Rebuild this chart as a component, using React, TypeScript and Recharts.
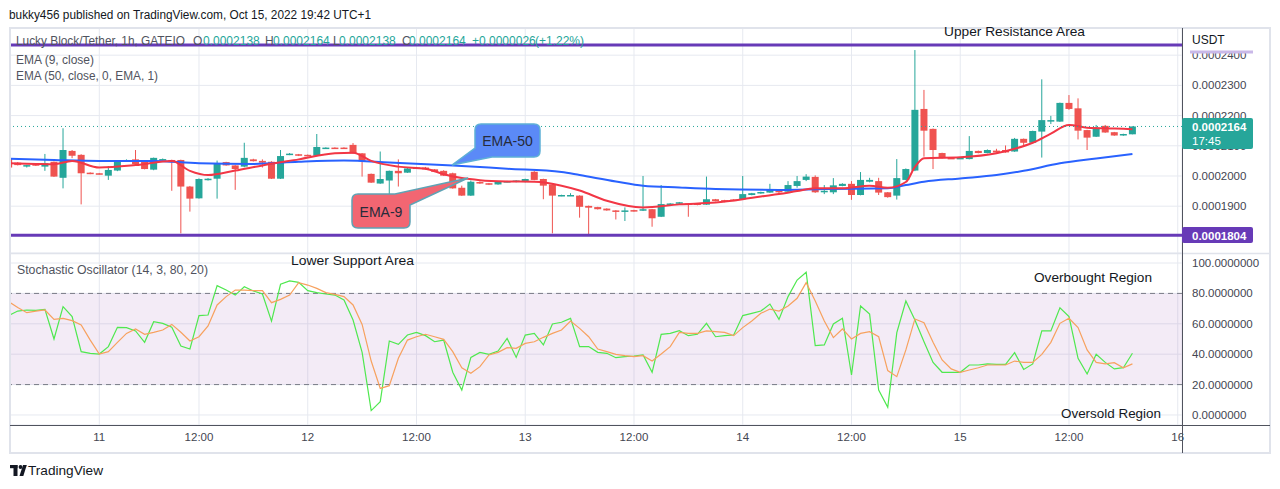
import { Bar, CartesianGrid, ComposedChart, Line, ReferenceArea, ReferenceLine, XAxis, YAxis } from "recharts";

const TEAL = "#26a69a";
const RED = "#ef5350";
const PURPLE = "#673ab7";
const GRID = "#e6e9f0";
const AXIS_TEXT = "#434651";
const FONT = "'Liberation Sans', Arial, sans-serif";

// bar index of the first candle; bar 0 = Oct 11 12:00 (hourly bars, one missing that morning)
const FIRST_BAR = -21;

// prices in units of 1e-7 USDT
const openE7 = [
  2058, 2044, 2034, 2039, 2031, 2047, 1994, 2083, 2070, 2011,
  2009, 2001, 2018, 2049, 2055, 2047, 2021, 2053, 2053, 2053,
  1965, 1926, 1986, 1991, 2046, 2035, 2031, 2055, 2050, 2047,
  1991, 2070, 2072, 2070, 2067, 2091, 2094, 2094, 2103, 2075,
  2007, 1975, 1985, 2017, 2011, 2025, 2028, 2022, 2017, 2009,
  1961, 1935, 1980, 1976, 1972, 1980, 1980, 1980, 2014, 1990,
  1972, 1934, 1935, 1935, 1901, 1897, 1892, 1886, 1882, 1887,
  1885, 1890, 1865, 1905, 1908, 1909, 1909, 1905, 1923, 1920,
  1922, 1923, 1937, 1942, 1945, 1951, 1948, 1967, 1987, 1997,
  1946, 1946, 1967, 1974, 1937, 1981, 1983, 1946, 1935, 1987,
  2018, 2222, 2156, 2076, 2060, 2058, 2056, 2083, 2076, 2084,
  2086, 2081, 2123, 2110, 2147, 2181, 2180, 2242, 2224, 2152,
  2130, 2166, 2145, 2134, 2138,
];
const highE7 = [
  2060, 2046, 2037, 2040, 2073, 2048, 2158, 2086, 2072, 2012,
  2010, 2033, 2052, 2055, 2086, 2048, 2061, 2058, 2054, 2054,
  1967, 1992, 1993, 2051, 2047, 2036, 2110, 2057, 2055, 2049,
  2086, 2076, 2073, 2071, 2139, 2095, 2095, 2095, 2109, 2076,
  2008, 2081, 2018, 2055, 2027, 2030, 2030, 2023, 2019, 2011,
  1968, 1985, 1982, 1977, 1982, 1984, 1986, 1991, 2016, 1991,
  1973, 1938, 1943, 1936, 1902, 1898, 1893, 1887, 1896, 1888,
  2000, 1891, 1970, 1910, 1914, 1910, 1910, 1998, 1924, 1921,
  1923, 2000, 1944, 1948, 1974, 1955, 1983, 2000, 2006, 2002,
  1970, 1993, 1976, 1983, 2013, 1994, 1994, 1947, 2056, 2025,
  2417, 2285, 2157, 2077, 2062, 2062, 2132, 2084, 2088, 2090,
  2101, 2126, 2124, 2150, 2320, 2199, 2243, 2268, 2257, 2153,
  2169, 2169, 2146, 2140, 2164,
];
const lowE7 = [
  2026, 2035, 2028, 2033, 2017, 1997, 1959, 2059, 1906, 2006,
  2005, 1987, 2016, 2048, 2036, 2022, 2019, 2052, 1951, 1810,
  1882, 1925, 1985, 1925, 2034, 1954, 2029, 2048, 2028, 1990,
  1990, 2069, 2066, 2065, 2066, 2090, 2090, 2090, 2074, 1998,
  1977, 1974, 1906, 1965, 2010, 2024, 2021, 2013, 2000, 1958,
  1934, 1934, 1974, 1970, 1971, 1979, 1979, 1979, 1986, 1923,
  1810, 1933, 1934, 1862, 1805, 1889, 1885, 1856, 1851, 1882,
  1884, 1832, 1864, 1904, 1907, 1865, 1903, 1904, 1916, 1913,
  1917, 1922, 1936, 1941, 1944, 1940, 1947, 1961, 1983, 1944,
  1940, 1940, 1966, 1921, 1936, 1979, 1937, 1928, 1922, 1986,
  2016, 2064, 2023, 2058, 2057, 2057, 2055, 2075, 2075, 2077,
  2077, 2080, 2099, 2109, 2061, 2172, 2179, 2219, 2121, 2086,
  2129, 2143, 2133, 2133, 2138,
];
const closeE7 = [
  2028, 2036, 2036, 2034, 2042, 1998, 2086, 2067, 2009, 2007,
  2006, 2020, 2050, 2053, 2039, 2023, 2060, 2056, 2046, 1965,
  1925, 1990, 1991, 2042, 2035, 2023, 2060, 2049, 2044, 1991,
  2066, 2074, 2067, 2066, 2096, 2094, 2091, 2091, 2075, 2050,
  1978, 1990, 2017, 2009, 2025, 2028, 2022, 2014, 2001, 1959,
  1935, 1981, 1975, 1971, 1981, 1983, 1985, 1990, 1987, 1968,
  1935, 1937, 1937, 1898, 1895, 1890, 1886, 1881, 1886, 1883,
  1890, 1860, 1907, 1909, 1913, 1904, 1904, 1923, 1917, 1914,
  1918, 1940, 1943, 1947, 1954, 1946, 1970, 1983, 1998, 1946,
  1951, 1969, 1974, 1937, 1987, 1987, 1945, 1930, 1993, 2023,
  2219, 2150, 2086, 2059, 2058, 2060, 2083, 2076, 2086, 2078,
  2078, 2123, 2110, 2149, 2185, 2185, 2242, 2222, 2150, 2127,
  2160, 2144, 2134, 2139, 2164,
];

// EMA lines, read at a subset of bars
const ema9Bars = [-21, -18, -16, -14, -11, -7, -3, -1, 1, 4, 7, 11, 15, 17, 19, 22, 25, 27, 29, 31, 34, 37, 40, 42, 45, 49, 53, 57, 60, 62, 64, 66, 68, 71, 74, 76, 78, 79, 80, 84, 88, 90, 92, 94, 96, 98, 101, 103];
const ema9E7 = [2042, 2040, 2039, 2050, 2028, 2036, 2050, 2017, 2003, 2018, 2035, 2055, 2075, 2077, 2050, 2031, 2024, 2006, 1993, 1986, 1982, 1981, 1968, 1952, 1918, 1896, 1906, 1912, 1923, 1932, 1940, 1950, 1959, 1959, 1968, 1961, 1980, 2030, 2059, 2062, 2075, 2090, 2110, 2140, 2169, 2160, 2157, 2155];
const ema50Bars = [-21, -16, -11, -5, 0, 6, 11, 16, 21, 28, 34, 40, 42, 46, 49, 53, 57, 64, 69, 76, 78, 80, 84, 88, 91, 95, 99, 103];
const ema50E7 = [2057, 2053, 2050, 2050, 2042, 2040, 2047, 2051, 2045, 2035, 2024, 2013, 2003, 1982, 1968, 1962, 1957, 1954, 1957, 1959, 1970, 1981, 1992, 2003, 2017, 2042, 2058, 2073];

// Stochastic (14, 3, 80, 20), one value per bar
const stochK = [
  65.4, 68.4, 69.1, 68.9, 69.5, 50.0, 71.3, 64.7, 41.7, 40.6,
  40.1, 45.0, 57.7, 57.5, 55.3, 47.8, 61.4, 60.3, 57.7, 45.4,
  43.4, 65.4, 65.8, 85.1, 82.2, 78.9, 84.4, 81.6, 79.6, 61.8,
  86.0, 88.2, 87.3, 81.8, 80.5, 79.6, 78.9, 75.7, 62.5, 41.2,
  2.9, 8.8, 48.7, 46.5, 52.6, 54.4, 52.2, 48.2, 49.3, 28.1,
  16.4, 37.9, 41.2, 39.9, 42.1, 50.4, 37.9, 52.6, 53.7, 46.1,
  59.9, 61.0, 63.6, 45.0, 45.0, 41.2, 40.6, 37.7, 38.4, 38.8,
  39.5, 28.1, 53.1, 53.7, 55.5, 52.2, 53.1, 60.3, 51.5, 52.2,
  52.6, 65.4, 66.9, 68.4, 73.0, 62.9, 77.9, 88.8, 93.9, 45.6,
  46.1, 59.9, 63.6, 26.3, 71.7, 66.4, 16.4, 5.0, 54.2, 75.0,
  62.5, 48.2, 34.6, 28.1, 28.1, 28.1, 32.9, 32.9, 33.6, 33.3,
  33.3, 41.0, 30.0, 33.6, 55.3, 55.3, 70.6, 64.7, 37.3, 27.0,
  39.9, 34.6, 30.3, 31.1, 40.6,
];
const stochD = [
  74.6, 70.8, 67.3, 68.4, 69.1, 62.9, 63.6, 62.1, 59.2, 49.3,
  40.1, 41.7, 47.8, 53.7, 56.6, 53.1, 54.4, 55.9, 59.6, 54.4,
  48.7, 51.5, 58.6, 72.4, 77.9, 82.2, 82.2, 81.8, 81.8, 73.9,
  76.1, 78.9, 87.1, 85.5, 83.3, 80.5, 79.4, 77.9, 72.4, 59.6,
  35.5, 17.5, 19.3, 37.3, 49.3, 51.5, 53.1, 51.5, 49.8, 41.7,
  31.1, 27.4, 31.8, 39.5, 41.2, 44.3, 43.9, 47.1, 48.2, 51.1,
  53.7, 55.9, 61.8, 57.0, 51.5, 43.4, 41.7, 39.9, 39.0, 38.4,
  39.0, 35.5, 40.1, 45.0, 54.4, 53.7, 53.7, 55.3, 54.8, 54.4,
  52.2, 57.5, 61.8, 66.9, 69.7, 68.4, 71.7, 76.8, 87.1, 75.0,
  61.8, 50.9, 56.6, 50.0, 53.7, 54.8, 51.5, 29.2, 25.2, 42.8,
  63.2, 60.7, 47.8, 36.2, 30.3, 28.1, 29.6, 31.1, 32.9, 32.9,
  32.9, 35.5, 34.6, 34.6, 39.9, 47.8, 60.3, 63.6, 57.5, 42.8,
  34.6, 33.6, 34.4, 31.1, 33.6,
];

const timeTickBars = [-11, 0, 12, 24, 36, 48, 60, 72, 84, 96, 108];
const timeTickLabels = ["11", "12:00", "12", "12:00", "13", "12:00", "14", "12:00", "15", "12:00", "16"];
const priceTicks = [0.00019, 0.0002, 0.00021, 0.00022, 0.00023, 0.00024];
const stochTicks = [0, 20, 40, 60, 80, 100];

const resistance = 0.0002434;
const support = 0.0001804;
const lastClose = 0.0002164;

const candles = openE7.map((o, i) => ({
  bar: FIRST_BAR + i,
  open: o / 1e7,
  high: highE7[i] / 1e7,
  low: lowE7[i] / 1e7,
  close: closeE7[i] / 1e7,
}));
const ema9 = ema9Bars.map((b, i) => ({ bar: b, value: ema9E7[i] / 1e7 }));
const ema50 = ema50Bars.map((b, i) => ({ bar: b, value: ema50E7[i] / 1e7 }));
const stoch = stochK.map((v, i) => ({ bar: FIRST_BAR + i, k: v, d: stochD[i] }));

const X_DOMAIN: [number, number] = [-20.855, 108.47];

function Candle(props: any) {
  const { x, y, width, height, payload } = props;
  if (!payload || x == null) return null;
  const top = Math.min(y, y + height);
  const h = Math.abs(height);
  const { open, close, high, low } = payload;
  const span = high - low || 1;
  const toY = (v: number) => top + ((high - v) / span) * h;
  const color = close >= open ? TEAL : RED;
  const cx = x + width / 2;
  const bTop = toY(Math.max(open, close));
  const bBot = toY(Math.min(open, close));
  return (
    <g>
      <line x1={cx} x2={cx} y1={top} y2={top + h} stroke={color} strokeWidth={1} />
      <rect x={x} y={bTop} width={width} height={Math.max(bBot - bTop, 1.5)} fill={color} />
    </g>
  );
}

const tickStyle = { fill: AXIS_TEXT, fontSize: 11.5, fontFamily: FONT };

function Overlay() {
  return (
    <svg width={1280} height={489} style={{ position: "absolute", left: 0, top: 0, pointerEvents: "none" }}>
      <text x={9} y={19} fontSize={12} fill="#131722" fontFamily={FONT} textLength={362} lengthAdjust="spacingAndGlyphs">
        bukky456 published on TradingView.com, Oct 15, 2022 19:42 UTC+1
      </text>

      {/* frame */}
      <rect x={10} y={28} width={1260} height={425} fill="none" stroke="#e0e3eb" strokeWidth={2} />
      <line x1={10} x2={1270} y1={253.5} y2={253.5} stroke="#e0e3eb" strokeWidth={1.5} />
      <line x1={1182.5} x2={1182.5} y1={28} y2={453} stroke="#50535e" strokeWidth={1} />
      <line x1={10} x2={1270} y1={425.5} y2={425.5} stroke="#50535e" strokeWidth={1} />

      {/* price scale header and labels */}
      <rect x={1183} y={29} width={86} height={24} fill="#fff" />
      <text x={1192} y={44} fontSize={12} fill="#131722" fontFamily={FONT}>USDT</text>
      <rect x={1190} y={50.5} width={63} height={3} fill="#c9b8e8" />
      <rect x={1182} y={118} width={71} height={31} rx={2} fill={TEAL} />
      <text x={1192} y={131} fontSize={11.5} fontWeight="bold" fill="#fff" fontFamily={FONT}>0.0002164</text>
      <text x={1192} y={145} fontSize={11.5} fill="#fff" fontFamily={FONT}>17:45</text>
      <rect x={1182} y={227} width={71} height={16} rx={2} fill={PURPLE} />
      <text x={1192} y={239.5} fontSize={11.5} fontWeight="bold" fill="#fff" fontFamily={FONT}>0.0001804</text>

      {/* legends */}
      <text y={44.5} fontSize={12} fill="#50535e" fontFamily={FONT}>
        <tspan x={16} textLength={169} lengthAdjust="spacingAndGlyphs">Lucky Block/Tether, 1h, GATEIO</tspan>
        <tspan x={193}>O</tspan>
        <tspan x={203} fill={TEAL}>0.0002138</tspan>
        <tspan x={265}>H</tspan>
        <tspan x={273} fill={TEAL}>0.0002164</tspan>
        <tspan x={333}>L</tspan>
        <tspan x={339} fill={TEAL}>0.0002138</tspan>
        <tspan x={402}>C</tspan>
        <tspan x={409} fill={TEAL}>0.0002164</tspan>
        <tspan x={472} fill={TEAL}>+0.0000026</tspan>
        <tspan x={535} fill={TEAL}>(+1.22%)</tspan>
      </text>
      <text x={16} y={63.5} fontSize={12} fill="#50535e" fontFamily={FONT}>EMA (9, close)</text>
      <text x={16} y={79.5} fontSize={12} fill="#50535e" fontFamily={FONT} textLength={142} lengthAdjust="spacingAndGlyphs">EMA (50, close, 0, EMA, 1)</text>
      <text x={17} y={274} fontSize={12} fill="#50535e" fontFamily={FONT} textLength={191} lengthAdjust="spacingAndGlyphs">Stochastic Oscillator (14, 3, 80, 20)</text>

      {/* annotations */}
      <text x={944} y={36} fontSize={13} fill="#131722" fontFamily={FONT} textLength={141} lengthAdjust="spacingAndGlyphs">Upper Resistance Area</text>
      <text x={291} y={265} fontSize={13} fill="#131722" fontFamily={FONT} textLength={123} lengthAdjust="spacingAndGlyphs">Lower Support Area</text>
      <text x={1034} y={282} fontSize={13} fill="#131722" fontFamily={FONT} textLength={118} lengthAdjust="spacingAndGlyphs">Overbought Region</text>
      <text x={1061} y={418} fontSize={13} fill="#131722" fontFamily={FONT} textLength={100} lengthAdjust="spacingAndGlyphs">Oversold Region</text>

      {/* callouts */}
      <path
        d="M481,124 L534,124 Q540,124 540,130 L540,151 Q540,157 534,157 L492,157 L452,165 L475,148 L475,130 Q475,124 481,124 Z"
        fill="#5b8af7"
        stroke="#5eb0d6"
        strokeWidth={1.5}
      />
      <text x={507.5} y={146} fontSize={14} fill="#262b3a" fontFamily={FONT} textAnchor="middle">EMA-50</text>
      <path
        d="M358,194 L395,194 L468,178 L410,205 L410,222 Q410,228 404,228 L358,228 Q352,228 352,222 L352,200 Q352,194 358,194 Z"
        fill="#f26672"
        stroke="#5fa3b5"
        strokeWidth={1.5}
      />
      <text x={381} y={216.5} fontSize={14} fill="#262b3a" fontFamily={FONT} textAnchor="middle">EMA-9</text>

      {/* TradingView mark */}
      <g fill="#131722">
        <rect x={10} y={465} width={7.5} height={3.2} />
        <rect x={13.5} y={465} width={4} height={11} />
        <circle cx={20.5} cy={467} r={1.9} />
        <polygon points="19.5,476 23,465 26.8,465 23.3,476" />
      </g>
      <text x={28} y={475} fontSize={13} fill="#131722" fontFamily={FONT} textLength={75} lengthAdjust="spacingAndGlyphs">TradingView</text>
    </svg>
  );
}

export default function App() {
  return (
    <div style={{ position: "absolute", left: 0, top: 0, width: 1280, height: 489, background: "#fff", overflow: "hidden" }}>
      <div style={{ position: "absolute", left: 10, top: 28 }}>
        <ComposedChart width={1260} height={225} data={candles} margin={{ top: 0, right: 0, bottom: 0, left: 0 }}>
          <CartesianGrid stroke={GRID} />
          <XAxis dataKey="bar" type="number" domain={X_DOMAIN} allowDataOverflow ticks={timeTickBars} hide />
          <YAxis
            orientation="right"
            width={88}
            type="number"
            domain={[0.0001745, 0.000249]}
            allowDataOverflow
            ticks={priceTicks}
            tickFormatter={(v: number) => v.toFixed(7)}
            axisLine={false}
            tickLine={false}
            tickSize={0}
            tickMargin={10}
            tick={tickStyle}
          />
          <Bar dataKey={(d: any) => [d.low, d.high]} shape={Candle} barSize={7} isAnimationActive={false} />
          <Line data={ema50} dataKey="value" type="monotone" stroke="#2962ff" strokeWidth={2} dot={false} isAnimationActive={false} />
          <Line data={ema9} dataKey="value" type="monotone" stroke="#f23645" strokeWidth={2} dot={false} isAnimationActive={false} />
          <ReferenceLine y={lastClose} stroke={TEAL} strokeDasharray="1 3" strokeWidth={1} />
          <ReferenceLine y={resistance} stroke={PURPLE} strokeWidth={3} />
          <ReferenceLine y={support} stroke={PURPLE} strokeWidth={3} />
        </ComposedChart>
      </div>
      <div style={{ position: "absolute", left: 10, top: 253 }}>
        <ComposedChart width={1260} height={200} data={stoch} margin={{ top: 0, right: 0, bottom: 0, left: 0 }}>
          <CartesianGrid stroke={GRID} />
          <XAxis
            dataKey="bar"
            type="number"
            domain={X_DOMAIN}
            allowDataOverflow
            ticks={timeTickBars}
            tickFormatter={(v: number) => timeTickLabels[timeTickBars.indexOf(v)] ?? ""}
            height={28}
            axisLine={false}
            tickLine={false}
            tickSize={0}
            tickMargin={8}
            tick={tickStyle}
          />
          <YAxis
            orientation="right"
            width={88}
            type="number"
            domain={[-6.6, 106.6]}
            allowDataOverflow
            ticks={stochTicks}
            tickFormatter={(v: number) => v.toFixed(7)}
            axisLine={false}
            tickLine={false}
            tickSize={0}
            tickMargin={10}
            tick={tickStyle}
          />
          <ReferenceArea y1={20} y2={80} fill="#9b59b6" fillOpacity={0.12} stroke="none" />
          <ReferenceLine y={80} stroke="#787b86" strokeDasharray="5 4" />
          <ReferenceLine y={20} stroke="#787b86" strokeDasharray="5 4" />
          <Line dataKey="k" type="linear" stroke="#4fe84f" strokeWidth={1.2} dot={false} isAnimationActive={false} />
          <Line dataKey="d" type="linear" stroke="#f7a15e" strokeWidth={1.2} dot={false} isAnimationActive={false} />
        </ComposedChart>
      </div>
      <Overlay />
    </div>
  );
}
